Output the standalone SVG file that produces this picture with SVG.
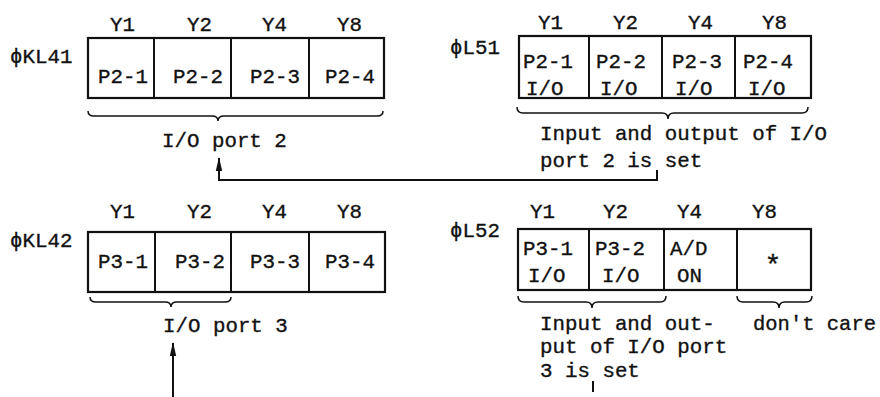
<svg xmlns="http://www.w3.org/2000/svg" width="880" height="397" viewBox="0 0 880 397">
  <defs>
    <!-- slim filled arrowhead, drawn along +x so it follows the line direction -->
    <marker id="arrowHead" markerWidth="14" markerHeight="8" refX="13" refY="4" orient="auto" markerUnits="userSpaceOnUse" viewBox="0 0 14 8">
      <path d="M14,4 L0,0.8 L0,7.2 Z" fill="#111"/>
    </marker>
    <style>
      text { font-family: "Courier New", "Nimbus Mono PS", "Liberation Mono", "DejaVu Sans Mono", monospace; font-size: 20.8px; fill: #111; stroke: #111; stroke-width: 0.35; }
      .star { font-size: 28px; }
      .box { fill: none; stroke: #111; stroke-width: 2.2; }
      .div { stroke: #111; stroke-width: 2; }
      .brace { fill: none; stroke: #111; stroke-width: 1.5; }
      .wire { fill: none; stroke: #111; stroke-width: 2; }
    </style>
  </defs>
  <rect width="880" height="397" fill="#fff"/>

  <!-- register KL41 -->
  <g id="kl41">
    <text x="10" y="63">ϕKL41</text>
    <text x="110" y="31">Y1</text>
    <text x="187" y="31">Y2</text>
    <text x="262" y="31">Y4</text>
    <text x="337" y="31">Y8</text>
    <rect class="box" x="88" y="38" width="296" height="60"/>
    <line class="div" x1="154" y1="38" x2="154" y2="98"/>
    <line class="div" x1="231" y1="38" x2="231" y2="98"/>
    <line class="div" x1="309" y1="38" x2="309" y2="98"/>
    <text x="98" y="83">P2-1</text>
    <text x="173" y="83">P2-2</text>
    <text x="250" y="83">P2-3</text>
    <text x="325" y="83">P2-4</text>
    <path class="brace" d="M88,111 Q88,116 94,116 L212,116 Q218,116 218,121 Q218,116 224,116 L377,116 Q383,116 383,111"/>
    <text x="162" y="147">I/O port 2</text>
  </g>

  <!-- register L51 -->
  <g id="l51">
    <text x="450" y="54">ϕL51</text>
    <text x="538" y="29">Y1</text>
    <text x="613" y="29">Y2</text>
    <text x="688" y="29">Y4</text>
    <text x="762" y="29">Y8</text>
    <rect class="box" x="519" y="36" width="292" height="62"/>
    <line class="div" x1="589" y1="36" x2="589" y2="98"/>
    <line class="div" x1="662" y1="36" x2="662" y2="98"/>
    <line class="div" x1="735" y1="36" x2="735" y2="98"/>
    <text x="523" y="68">P2-1</text>
    <text x="596" y="68">P2-2</text>
    <text x="672" y="68">P2-3</text>
    <text x="743" y="68">P2-4</text>
    <text x="526" y="95">I/O</text>
    <text x="600" y="95">I/O</text>
    <text x="675" y="95">I/O</text>
    <text x="748" y="95">I/O</text>
    <path class="brace" d="M517,107 Q517,113 523,113 L662,113 Q668,113 668,119 Q668,113 674,113 L802,113 Q808,113 808,107"/>
    <text x="540" y="140">Input and output of I/O</text>
    <text x="540" y="167">port 2 is set</text>
  </g>

  <!-- register KL42 -->
  <g id="kl42">
    <text x="10" y="247">ϕKL42</text>
    <text x="110" y="218">Y1</text>
    <text x="187" y="218">Y2</text>
    <text x="262" y="218">Y4</text>
    <text x="337" y="218">Y8</text>
    <rect class="box" x="88" y="232" width="297" height="60"/>
    <line class="div" x1="155" y1="232" x2="155" y2="292"/>
    <line class="div" x1="231" y1="232" x2="231" y2="292"/>
    <line class="div" x1="309" y1="232" x2="309" y2="292"/>
    <text x="98" y="268">P3-1</text>
    <text x="175" y="268">P3-2</text>
    <text x="250" y="268">P3-3</text>
    <text x="325" y="268">P3-4</text>
    <path class="brace" d="M90,297 Q90,302 96,302 L165,302 Q171,302 171,307 Q171,302 177,302 L225,302 Q231,302 231,297"/>
    <text x="163" y="332">I/O port 3</text>
  </g>

  <!-- register L52 -->
  <g id="l52">
    <text x="450" y="237">ϕL52</text>
    <text x="530" y="218">Y1</text>
    <text x="603" y="218">Y2</text>
    <text x="677" y="218">Y4</text>
    <text x="752" y="218">Y8</text>
    <rect class="box" x="518" y="229" width="293" height="61"/>
    <line class="div" x1="589" y1="229" x2="589" y2="290"/>
    <line class="div" x1="664" y1="229" x2="664" y2="290"/>
    <line class="div" x1="737" y1="229" x2="737" y2="290"/>
    <text x="523" y="255">P3-1</text>
    <text x="595" y="255">P3-2</text>
    <text x="670" y="255">A/D</text>
    <text x="528" y="282">I/O</text>
    <text x="602" y="282">I/O</text>
    <text x="677" y="282">ON</text>
    <text class="star" x="773" y="274" text-anchor="middle">*</text>
    <path class="brace" d="M518,296 Q518,302 524,302 L586,302 Q592,302 592,308 Q592,302 598,302 L660,302 Q666,302 666,296"/>
    <path class="brace" d="M737,296 Q737,302 743,302 L773,302 Q779,302 779,308 Q779,302 785,302 L806,302 Q812,302 812,296"/>
    <text x="540" y="330">Input and out-</text>
    <text x="540" y="353">put of I/O port</text>
    <text x="540" y="377">3 is set</text>
    <text x="753" y="330" textLength="123" lengthAdjust="spacingAndGlyphs">don't care</text>
  </g>

  <!-- connectors -->
  <g id="connectors">
    <path class="wire" d="M657,170 L657,180 L219,180 L219,158" marker-end="url(#arrowHead)"/>
    <path class="wire" d="M173,397 L173,343" marker-end="url(#arrowHead)"/>
    <line class="wire" x1="593" y1="381" x2="593" y2="392" stroke-width="1.5"/>
  </g>
</svg>
